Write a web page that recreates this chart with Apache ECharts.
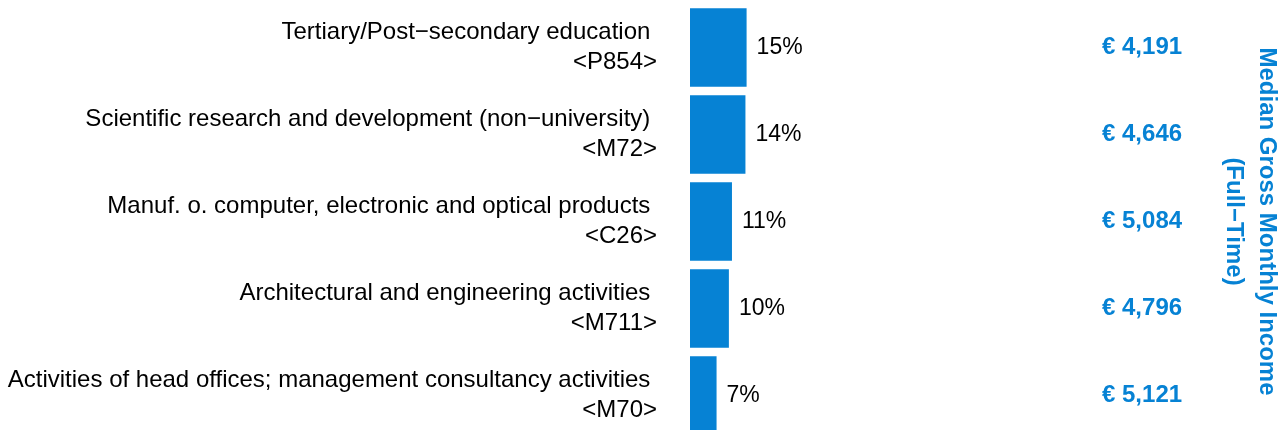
<!DOCTYPE html>
<html>
<head>
<meta charset="utf-8">
<script src="https://cdn.jsdelivr.net/npm/echarts@6/dist/echarts.min.js"></script>
<style>html,body{margin:0;padding:0;background:#fff;}#chart{width:1284px;height:430px;}</style>
</head>
<body>
<div id="chart"></div>
<script>
const sectors = [
  "Tertiary/Post\u2212secondary education",
  "Scientific research and development (non\u2212university)",
  "Manuf. o. computer, electronic and optical products",
  "Architectural and engineering activities",
  "Activities of head offices; management consultancy activities"
];
const codes = ["P854", "M72", "C26", "M711", "M70"];
const shares = [14.7, 14.4, 10.9, 10.1, 6.9];
const incomes = [4191, 4646, 5084, 4796, 5121];
const incomeTitle = "Median Gross Monthly Income\n(Full\u2212Time)";

const BLUE = "#0682D4";
const FONT = "'Liberation Sans', Arial, sans-serif";
const cats = sectors.map((s, i) => s + " \n<" + codes[i] + ">");

const chart = echarts.init(document.getElementById('chart'), null, {renderer: 'canvas'});
chart.setOption({
  animation: false,
  backgroundColor: '#fff',
  grid: {left: 690, width: 385, top: 4, height: 435, containLabel: false, outerBoundsMode: 'none'},
  xAxis: {type: 'value', min: 0, max: 100, show: false},
  yAxis: [
    {
      type: 'category', data: cats, inverse: true,
      axisLine: {show: false}, axisTick: {show: false}, splitLine: {show: false},
      axisLabel: {fontFamily: FONT, fontSize: 24, lineHeight: 30, color: '#000', margin: 33, align: 'right'}
    },
    {
      type: 'category', data: cats, inverse: true, position: 'right',
      axisLine: {show: false}, axisTick: {show: false}, splitLine: {show: false},
      axisLabel: {
        fontFamily: FONT, fontSize: 24, fontWeight: 'bold', color: BLUE, margin: 27,
        formatter: (v, i) => '\u20ac ' + incomes[i].toLocaleString('en-US')
      },
      name: incomeTitle, nameLocation: 'middle', nameRotate: -90, nameGap: 142,
      nameTextStyle: {fontFamily: FONT, fontSize: 24, fontWeight: 'bold', color: BLUE, lineHeight: 33}
    }
  ],
  series: [{
    type: 'bar', data: shares, barCategoryGap: '9.5%',
    itemStyle: {color: BLUE},
    label: {
      show: true, position: 'right', distance: 10,
      fontFamily: FONT, fontSize: 23, color: '#000',
      formatter: p => Math.round(p.value) + '%'
    }
  }]
});
</script>
</body>
</html>
